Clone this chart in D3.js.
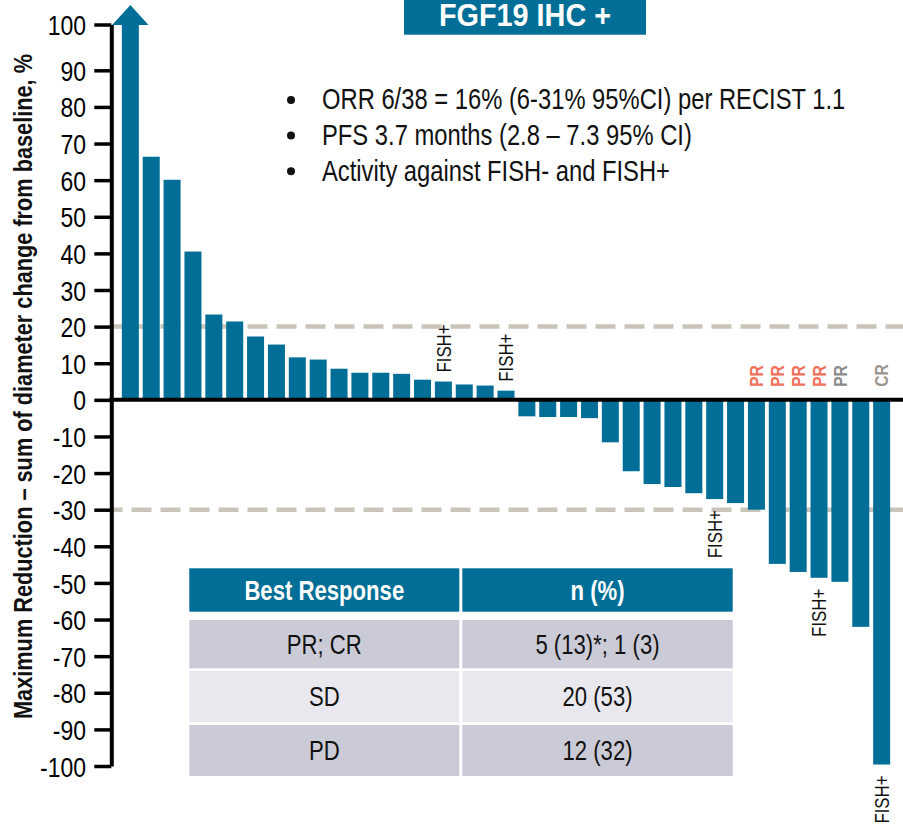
<!DOCTYPE html>
<html>
<head>
<meta charset="utf-8">
<script src="https://cdn.jsdelivr.net/npm/d3@7"></script>
<style>
  html, body { margin: 0; padding: 0; background: #fff; }
  svg { display: block; }
  text { font-family: "Liberation Sans", Arial, Helvetica, sans-serif; }
</style>
</head>
<body>
<svg id="chart" width="903" height="826"></svg>
<script>
// ---------------- data ----------------
const barValues = [100, 66.4, 60.1, 40.5, 23.3, 21.4, 17.3, 15.1, 11.6, 11.0, 8.5, 7.4, 7.4, 7.1, 5.5, 5.0, 4.2, 3.9, 2.5,
  -4.5, -4.7, -4.7, -5.0, -11.6, -19.5, -23.0, -23.8, -25.5, -27.1, -28.2, -30.0, -44.8, -47.0, -48.6, -49.7, -62.0, -99.6];
const truncatedAt = 100;                       // bar values at/above this are capped and drawn with an arrow
const fishPlusIndex = [15, 18, 28, 33, 36];
const fishPlusText = "FISH+";
const responseIndex = [30, 31, 32, 33, 34, 36];
const responseText = ["PR", "PR", "PR", "PR", "PR", "CR"];
const responseType = ["confirmed", "confirmed", "confirmed", "confirmed", "unconfirmed", "complete"];
const yTicks = [100, 90, 80, 70, 60, 50, 40, 30, 20, 10, 0, -10, -20, -30, -40, -50, -60, -70, -80, -90, -100];
const thresholds = [20, -30];
const titleText = "FGF19 IHC +";
const bullets = [
  "ORR 6/38 = 16% (6-31% 95%CI) per RECIST 1.1",
  "PFS 3.7 months (2.8 \u2013 7.3 95% CI)",
  "Activity against FISH- and FISH+"
];
const yLabel = "Maximum Reduction \u2013 sum of diameter change from baseline, %";
const tableHeader = ["Best Response", "n (%)"];
const tableRows = [
  ["PR; CR", "5 (13)*; 1 (3)"],
  ["SD", "20 (53)"],
  ["PD", "12 (32)"]
];

// ---------------- styles ----------------
const BLUE = "#006e96";
const responseColor = { confirmed: "#f0705a", unconfirmed: "#8b8b8b", complete: "#9c958c" };
const rowFill = ["#cbcbd7", "#e8e8ee", "#cbcbd7"];
const NARROW = 0.82;

// condense text horizontally (along its own direction) to mimic a narrow typeface
function narrow(sel, k = NARROW) {
  sel.each(function () {
    const t = d3.select(this);
    const tx = +t.attr("x") || 0, ty = +t.attr("y") || 0;
    const tr = t.attr("transform") || "";
    t.attr("x", 0).attr("y", 0).attr("transform", `${tr} translate(${tx},${ty}) scale(${k},1)`);
  });
}

const svg = d3.select("#chart");

// scales
const x = d3.scaleBand().domain(d3.range(barValues.length))
  .range([113.5, 898.5]).paddingInner(0.185).paddingOuter(0.4);
const y = d3.scaleLinear().domain([-100, 90, 100]).range([766, 70.3, 24.5]);
const axisX = 111.3;

// threshold dashed lines
svg.append("g").selectAll("line").data(thresholds).join("line")
  .attr("x1", 113).attr("x2", 903)
  .attr("y1", d => y(d)).attr("y2", d => y(d))
  .attr("stroke", "#c9c4ba").attr("stroke-width", 4.5)
  .attr("stroke-dasharray", "20,9").attr("stroke-dashoffset", 10.5);

// bars
svg.append("g").selectAll("rect").data(barValues).join("rect")
  .attr("x", (d, i) => x(i))
  .attr("width", x.bandwidth())
  .attr("y", d => y(Math.max(0, Math.min(d, truncatedAt))))
  .attr("height", d => Math.abs(y(Math.min(d, truncatedAt)) - y(0)))
  .attr("fill", BLUE);

// arrow for truncated bars
svg.append("g").selectAll("path").data(barValues.map((v, i) => ({ v, i })).filter(d => d.v >= truncatedAt)).join("path")
  .attr("d", d => {
    const cx = x(d.i) + x.bandwidth() / 2, hw = x.bandwidth() * 1.07, top = y(truncatedAt);
    return `M${cx - hw},${top + 0.5} L${cx},${top - 19.5} L${cx + hw},${top + 0.5} Z`;
  })
  .attr("fill", BLUE);

// y axis
const yAxis = d3.axisLeft(y).tickValues(yTicks).tickSize(17).tickSizeOuter(0).tickPadding(8.3)
  .tickFormat(d => String(d));
const gy = svg.append("g").attr("transform", `translate(${axisX},0)`).call(yAxis);
gy.select(".domain").attr("stroke", "#000").attr("stroke-width", 4);
gy.selectAll(".tick line").attr("stroke", "#000").attr("stroke-width", 3.5);
gy.selectAll(".tick text").attr("fill", "#000").style("font-size", "28px")
  .style("font-family", '"Liberation Sans", Arial, sans-serif')
  .attr("dy", "0.36em");
narrow(gy.selectAll(".tick text"));

// zero line
svg.append("line").attr("x1", axisX - 2).attr("x2", 903)
  .attr("y1", y(0)).attr("y2", y(0)).attr("stroke", "#000").attr("stroke-width", 4);

// y label
narrow(svg.append("text")
  .attr("transform", `translate(32,386.5) rotate(-90)`)
  .attr("text-anchor", "middle")
  .style("font-size", "26.5px").style("font-weight", "bold").attr("fill", "#111")
  .text(yLabel));

// FISH+ labels
narrow(svg.append("g").selectAll("text").data(fishPlusIndex).join("text")
  .attr("transform", i => {
    const v = barValues[i], cx = x(i) + x.bandwidth() / 2;
    const yy = v >= 0 ? y(v) - 9 : y(v) + 11;
    return `translate(${cx},${yy}) rotate(-90)`;
  })
  .attr("text-anchor", i => barValues[i] >= 0 ? "start" : "end")
  .attr("dy", "0.35em")
  .style("font-size", "20.5px").attr("fill", "#111")
  .text(fishPlusText));

// response labels
narrow(svg.append("g").selectAll("text").data(responseIndex).join("text")
  .attr("transform", i => `translate(${x(i) + x.bandwidth() / 2},${y(0) - 13}) rotate(-90)`)
  .attr("text-anchor", "start").attr("dy", "0.35em")
  .style("font-size", "19px").style("font-weight", "bold")
  .attr("fill", (d, k) => responseColor[responseType[k]])
  .text((d, k) => responseText[k]));

// title box
const titleBox = { x0: 404, x1: 646, y0: -6, y1: 34.7 };
svg.append("rect").attr("x", titleBox.x0).attr("y", titleBox.y0)
  .attr("width", titleBox.x1 - titleBox.x0).attr("height", titleBox.y1 - titleBox.y0).attr("fill", BLUE);
narrow(svg.append("text").attr("x", (titleBox.x0 + titleBox.x1) / 2).attr("y", 25.5)
  .attr("text-anchor", "middle").attr("fill", "#fff")
  .style("font-size", "31px").style("font-weight", "bold").text(titleText), 0.93);

// bullets
const gb = svg.append("g");
gb.selectAll("circle").data(bullets).join("circle")
  .attr("cx", 291).attr("cy", (d, i) => 100 + i * 35.6).attr("r", 4).attr("fill", "#111");
narrow(gb.selectAll("text").data(bullets).join("text")
  .attr("x", 322).attr("y", (d, i) => 109.3 + i * 35.6)
  .style("font-size", "29px").attr("fill", "#111").text(d => d));

// table
const colX = [[189.3, 459.3], [462.3, 732.7]];
const headY = [568.3, 611.7];
const rowY = [[620, 668.3], [671, 722.3], [725, 776]];
const gt = svg.append("g");
tableHeader.forEach((h, c) => {
  gt.append("rect").attr("x", colX[c][0]).attr("y", headY[0])
    .attr("width", colX[c][1] - colX[c][0]).attr("height", headY[1] - headY[0]).attr("fill", BLUE);
  narrow(gt.append("text").attr("x", (colX[c][0] + colX[c][1]) / 2).attr("y", (headY[0] + headY[1]) / 2)
    .attr("dy", "0.36em").attr("text-anchor", "middle").attr("fill", "#fff")
    .style("font-size", "27px").style("font-weight", "bold").text(h));
});
tableRows.forEach((row, r) => {
  row.forEach((cell, c) => {
    gt.append("rect").attr("x", colX[c][0]).attr("y", rowY[r][0])
      .attr("width", colX[c][1] - colX[c][0]).attr("height", rowY[r][1] - rowY[r][0]).attr("fill", rowFill[r]);
    narrow(gt.append("text").attr("x", (colX[c][0] + colX[c][1]) / 2).attr("y", (rowY[r][0] + rowY[r][1]) / 2)
      .attr("dy", "0.36em").attr("text-anchor", "middle").attr("fill", "#111")
      .style("font-size", "27px").text(cell));
  });
});
</script>
</body>
</html>
